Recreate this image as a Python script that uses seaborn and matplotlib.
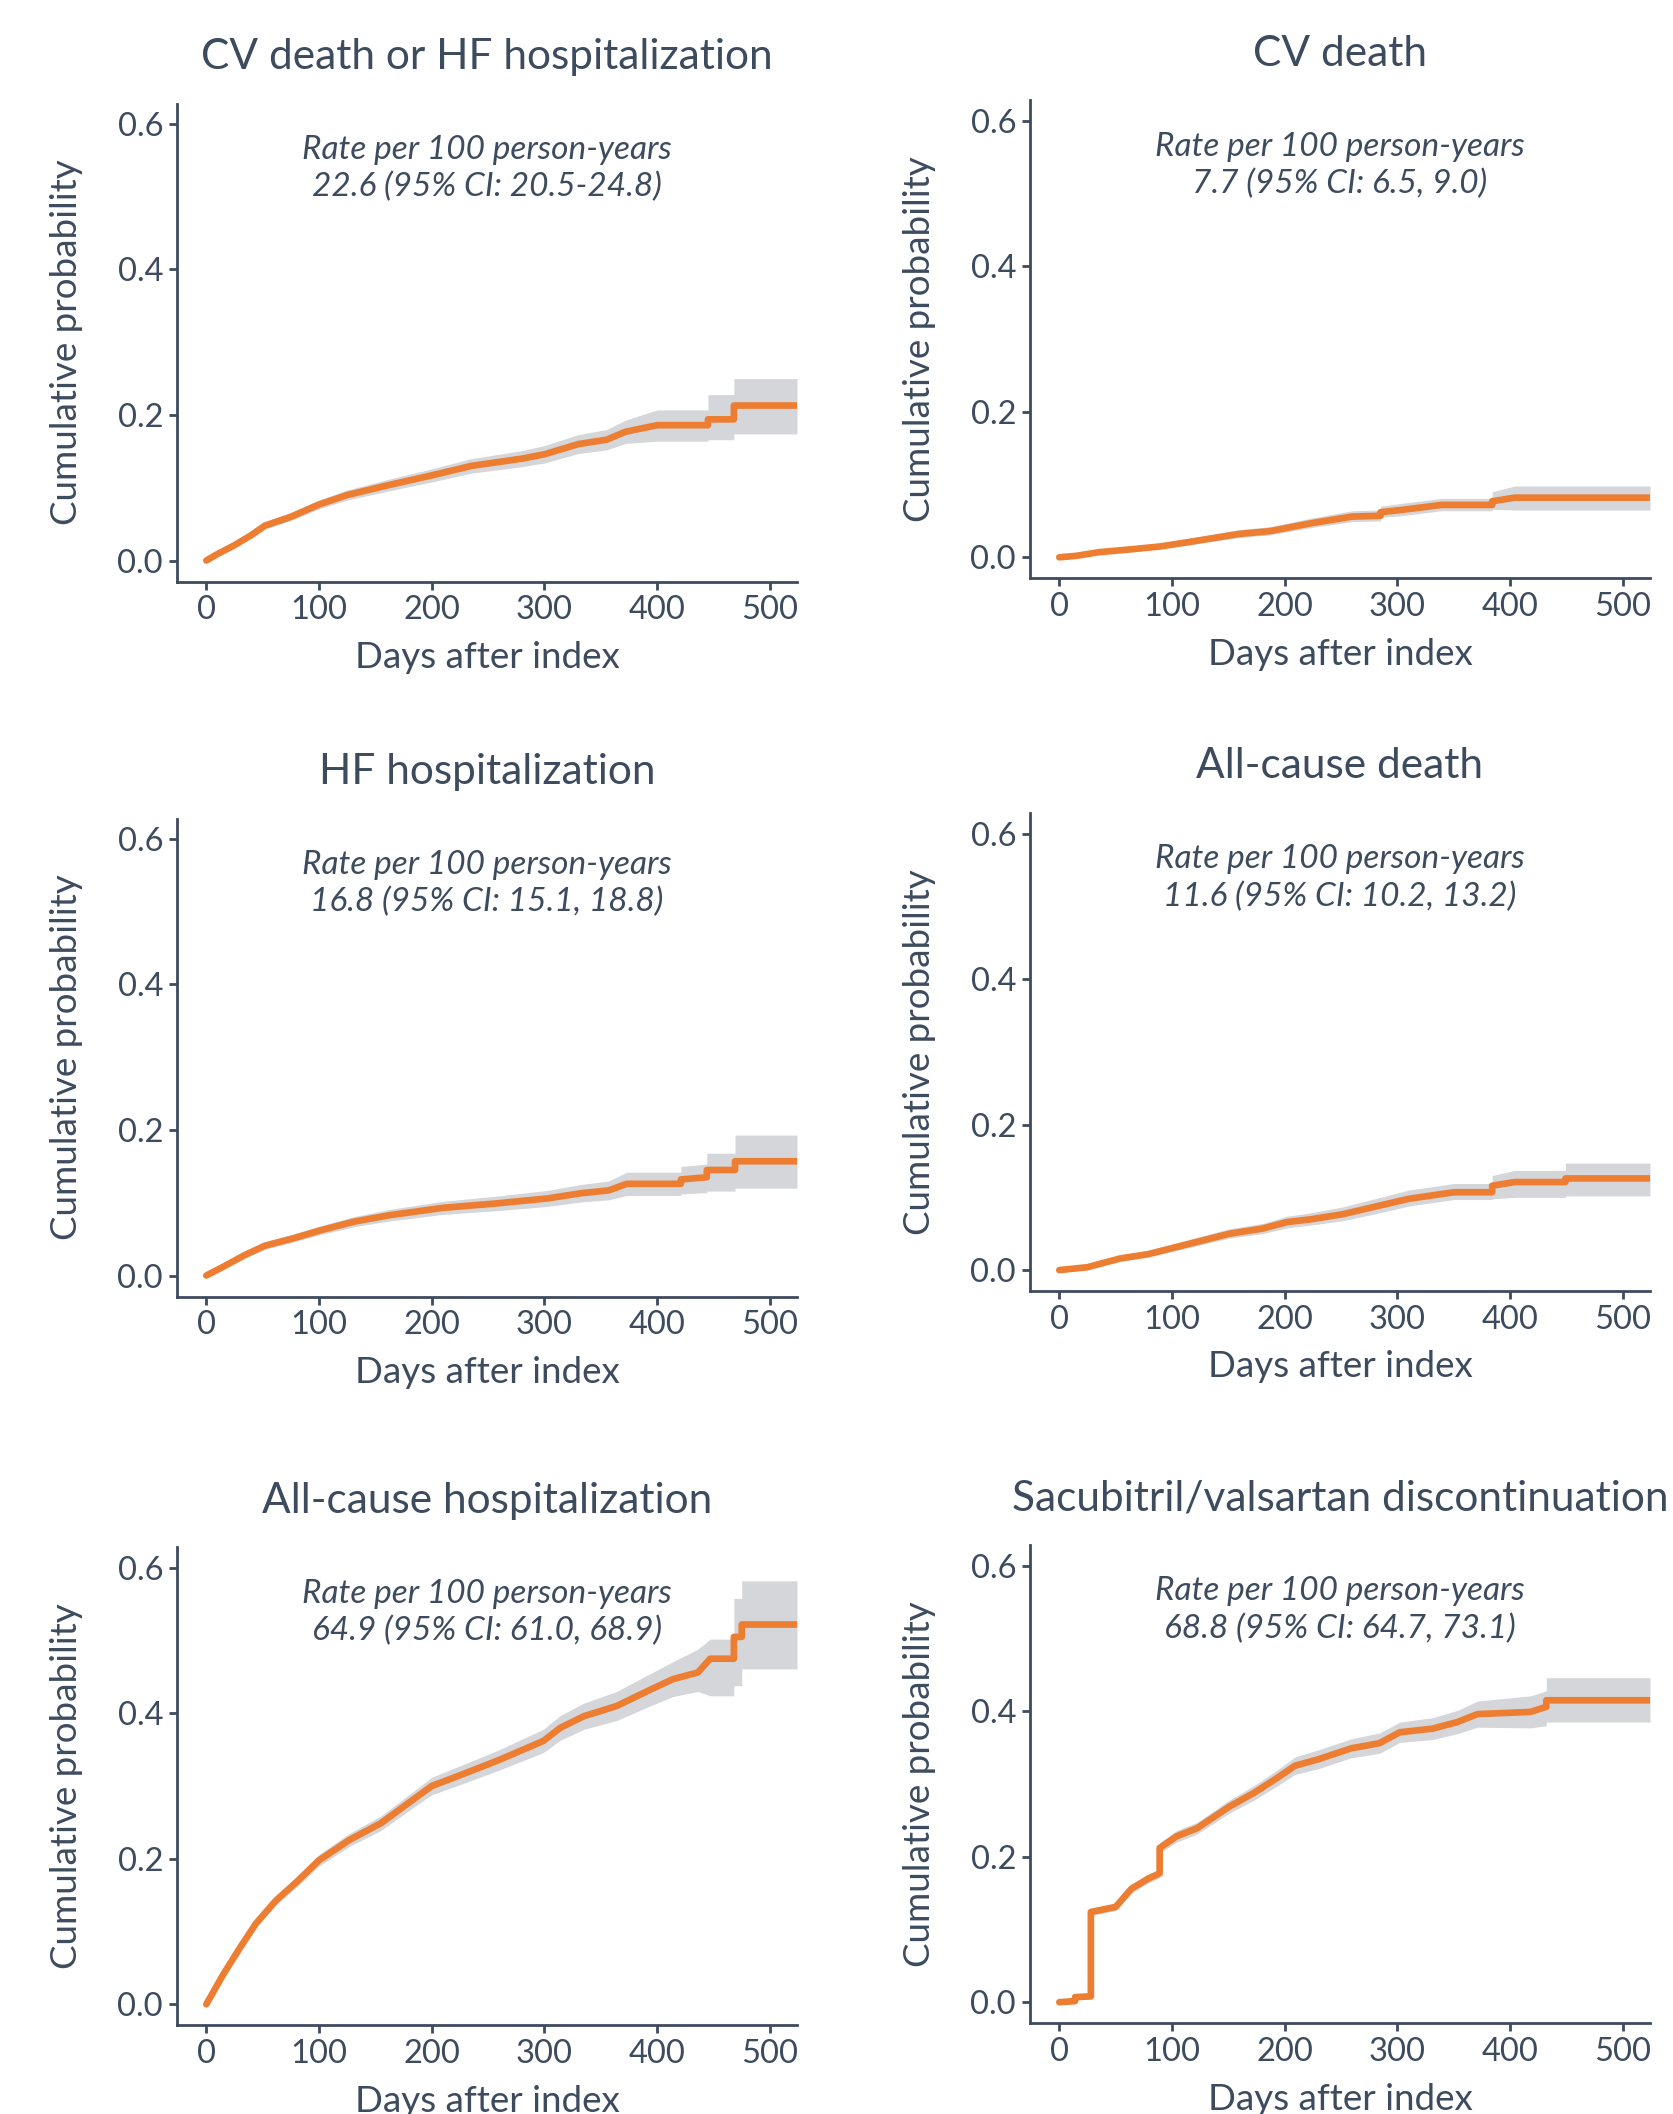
import matplotlib
matplotlib.use("Agg")
import matplotlib.pyplot as plt
import seaborn as sns

#------------------------------------------------------------------------------------
# data (days after index, cumulative probability, 95% CI)

titles = [
    "CV death or HF hospitalization", "CV death",
    "HF hospitalization", "All-cause death",
    "All-cause hospitalization", "Sacubitril/valsartan discontinuation",
]
rate_labels = [
    "22.6 (95% CI: 20.5-24.8)", "7.7 (95% CI: 6.5, 9.0)",
    "16.8 (95% CI: 15.1, 18.8)", "11.6 (95% CI: 10.2, 13.2)",
    "64.9 (95% CI: 61.0, 68.9)", "68.8 (95% CI: 64.7, 73.1)",
]

cvhf_days = [0, 10, 25, 40, 52, 75, 100, 125, 160, 200, 235, 280, 300, 330, 355, 372, 400, 445, 445, 468, 468, 524]
cvhf_est = [0, 0.009, 0.021, 0.035, 0.048, 0.060, 0.077, 0.090, 0.103, 0.117, 0.130, 0.140, 0.146, 0.160, 0.166, 0.177, 0.186, 0.186, 0.194, 0.194, 0.213, 0.213]
cvhf_lo = [0, 0.007, 0.018, 0.031, 0.043, 0.055, 0.071, 0.083, 0.095, 0.108, 0.120, 0.129, 0.134, 0.147, 0.152, 0.161, 0.164, 0.164, 0.166, 0.166, 0.174, 0.174]
cvhf_hi = [0, 0.011, 0.024, 0.039, 0.053, 0.066, 0.083, 0.097, 0.111, 0.126, 0.140, 0.151, 0.158, 0.173, 0.180, 0.193, 0.207, 0.207, 0.228, 0.228, 0.250, 0.250]

cvd_days = [0, 15, 35, 64, 90, 115, 159, 187, 224, 260, 285, 285, 303, 339, 384, 384, 404, 524]
cvd_est = [0, 0.002, 0.007, 0.011, 0.015, 0.021, 0.032, 0.036, 0.047, 0.056, 0.057, 0.062, 0.065, 0.072, 0.072, 0.077, 0.082, 0.082]
cvd_lo = [0, 0.001, 0.005, 0.008, 0.012, 0.017, 0.027, 0.031, 0.041, 0.049, 0.050, 0.055, 0.057, 0.064, 0.064, 0.066, 0.065, 0.065]
cvd_hi = [0, 0.003, 0.009, 0.014, 0.019, 0.026, 0.038, 0.042, 0.054, 0.064, 0.065, 0.070, 0.074, 0.081, 0.081, 0.090, 0.098, 0.098]

hf_days = [0, 15, 34, 52, 77, 101, 131, 163, 210, 257, 303, 332, 357, 373, 421, 421, 444, 444, 469, 469, 524]
hf_est = [0, 0.012, 0.028, 0.041, 0.051, 0.062, 0.074, 0.083, 0.093, 0.099, 0.106, 0.113, 0.117, 0.126, 0.126, 0.132, 0.135, 0.145, 0.145, 0.157, 0.157]
hf_lo = [0, 0.010, 0.024, 0.036, 0.046, 0.056, 0.067, 0.075, 0.084, 0.089, 0.095, 0.101, 0.104, 0.110, 0.110, 0.112, 0.114, 0.116, 0.116, 0.120, 0.120]
hf_hi = [0, 0.014, 0.032, 0.046, 0.057, 0.068, 0.081, 0.091, 0.102, 0.109, 0.117, 0.125, 0.130, 0.142, 0.142, 0.150, 0.153, 0.168, 0.168, 0.193, 0.193]

acd_days = [0, 25, 54, 79, 115, 151, 180, 202, 224, 252, 285, 310, 350, 384, 384, 404, 449, 449, 524]
acd_est = [0, 0.004, 0.016, 0.022, 0.036, 0.050, 0.057, 0.066, 0.070, 0.077, 0.089, 0.098, 0.107, 0.107, 0.116, 0.121, 0.121, 0.126, 0.126]
acd_lo = [0, 0.002, 0.012, 0.018, 0.031, 0.044, 0.050, 0.058, 0.062, 0.068, 0.079, 0.088, 0.097, 0.097, 0.098, 0.100, 0.100, 0.102, 0.102]
acd_hi = [0, 0.006, 0.020, 0.027, 0.042, 0.057, 0.064, 0.074, 0.079, 0.087, 0.100, 0.110, 0.119, 0.119, 0.130, 0.137, 0.137, 0.147, 0.147]

ach_days = [0, 15, 30, 44, 62, 80, 100, 127, 155, 184, 200, 227, 260, 299, 314, 335, 364, 392, 414, 436, 447, 468, 468, 475, 475, 524]
ach_est = [0, 0.041, 0.078, 0.111, 0.143, 0.168, 0.198, 0.226, 0.249, 0.282, 0.300, 0.316, 0.336, 0.362, 0.380, 0.396, 0.410, 0.431, 0.447, 0.456, 0.475, 0.475, 0.505, 0.505, 0.522, 0.522]
ach_lo = [0, 0.038, 0.074, 0.106, 0.137, 0.161, 0.190, 0.217, 0.239, 0.271, 0.288, 0.303, 0.322, 0.346, 0.363, 0.378, 0.390, 0.409, 0.423, 0.430, 0.424, 0.424, 0.438, 0.438, 0.461, 0.461]
ach_hi = [0, 0.044, 0.082, 0.116, 0.149, 0.175, 0.206, 0.235, 0.259, 0.293, 0.312, 0.329, 0.350, 0.378, 0.397, 0.414, 0.430, 0.453, 0.471, 0.488, 0.502, 0.502, 0.558, 0.558, 0.582, 0.582]

sv_days = [0, 14, 14, 28, 28, 50, 64, 79, 89, 89, 104, 122, 151, 173, 194, 209, 230, 259, 284, 302, 331, 353, 371, 418, 432, 432, 524]
sv_est = [0, 0.0015, 0.007, 0.008, 0.124, 0.131, 0.156, 0.170, 0.177, 0.212, 0.228, 0.239, 0.269, 0.288, 0.309, 0.325, 0.334, 0.349, 0.356, 0.371, 0.376, 0.385, 0.396, 0.399, 0.406, 0.415, 0.415]
sv_lo = [0, 0.001, 0.005, 0.006, 0.119, 0.126, 0.150, 0.164, 0.171, 0.205, 0.220, 0.231, 0.260, 0.278, 0.298, 0.313, 0.321, 0.336, 0.342, 0.357, 0.361, 0.369, 0.378, 0.377, 0.380, 0.385, 0.385]
sv_hi = [0, 0.002, 0.009, 0.010, 0.129, 0.136, 0.162, 0.176, 0.183, 0.219, 0.236, 0.247, 0.278, 0.298, 0.320, 0.337, 0.347, 0.362, 0.370, 0.385, 0.391, 0.401, 0.414, 0.421, 0.428, 0.446, 0.446]

x_ticks = [0, 100, 200, 300, 400, 500]
y_ticks = [0.0, 0.2, 0.4, 0.6]

#------------------------------------------------------------------------------------

SLATE = "#3d4b5e"
ORANGE = "#ED7D31"
BAND = "#D4D6DA"

sns.set_theme(style="ticks")
plt.rcParams["font.family"] = ["Lato", "DejaVu Sans"]
plt.rcParams["text.color"] = SLATE
plt.rcParams["axes.labelcolor"] = SLATE
plt.rcParams["xtick.color"] = SLATE
plt.rcParams["ytick.color"] = SLATE


def plot_cuminc(ax, days, est, lo, hi, title, rate):
    """Draw one cumulative incidence curve with its confidence band."""
    ax.fill_between(days, lo, hi, color=BAND, linewidth=0)
    sns.lineplot(x=days, y=est, ax=ax, color=ORANGE, linewidth=4.8,
                 estimator=None, sort=False)
    ax.set_xlim(-26, 524)
    ax.set_ylim(-0.029, 0.628)
    ax.set_xticks(x_ticks)
    ax.set_yticks(y_ticks)
    ax.set_yticklabels([f"{v:.1f}" for v in y_ticks])
    ax.tick_params(labelsize=23.5, length=6, width=2, pad=4)
    for side in ["top", "right"]:
        ax.spines[side].set_visible(False)
    for side in ["left", "bottom"]:
        ax.spines[side].set_color(SLATE)
        ax.spines[side].set_linewidth(2)
    ax.set_xlabel("Days after index", fontsize=26.5)
    ax.set_ylabel("Cumulative probability", fontsize=26.5)
    ax.xaxis.set_label_coords(0.5, -0.124)
    ax.yaxis.set_label_coords(-0.152, 0.5)
    ax.set_title(title, fontsize=30.5, color=SLATE, pad=25)
    ax.text(0.5, 0.864, "Rate per 100 person-years\n" + rate,
            transform=ax.transAxes, ha="center", va="center",
            fontsize=24, fontstyle="italic", color=SLATE, linespacing=1.3)


W, H = 1674, 2114
fig = plt.figure(figsize=(W / 100, H / 100), dpi=100)

series = [
    (cvhf_days, cvhf_est, cvhf_lo, cvhf_hi),
    (cvd_days, cvd_est, cvd_lo, cvd_hi),
    (hf_days, hf_est, hf_lo, hf_hi),
    (acd_days, acd_est, acd_lo, acd_hi),
    (ach_days, ach_est, ach_lo, ach_hi),
    (sv_days, sv_est, sv_lo, sv_hi),
]

# axes boxes in pixels: left, top
col_left = [177, 1030]
row_top = [[103.6, 100.4], [818.6, 813.2], [1547.4, 1545.3]]
ax_w, ax_h = 620, 478

for i, (days, est, lo, hi) in enumerate(series):
    r, c = divmod(i, 2)
    left = col_left[c]
    top = row_top[r][c]
    ax = fig.add_axes([left / W, 1 - (top + ax_h) / H, ax_w / W, ax_h / H])
    plot_cuminc(ax, days, est, lo, hi, titles[i], rate_labels[i])

fig.savefig("out.png", dpi=100)
